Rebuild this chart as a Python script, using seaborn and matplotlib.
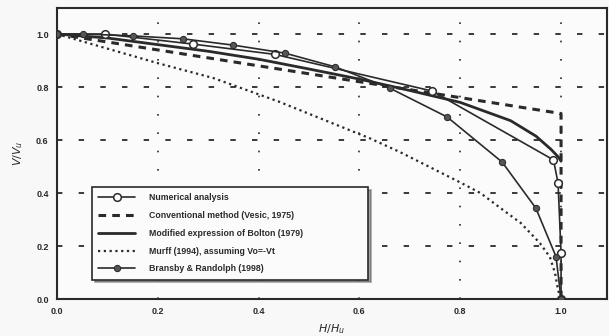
import numpy as np
import pandas as pd
import matplotlib
matplotlib.use("Agg")
import matplotlib.pyplot as plt
import seaborn as sns

sns.set_style("white")
plt.rcParams['font.family'] = ['Liberation Sans', 'DejaVu Sans']

# ---- data ----
num_x = [0.0, 0.095, 0.27, 0.433, 0.744, 0.985, 0.994, 1.0, 1.0]
num_y = [1.0, 1.0, 0.962, 0.923, 0.785, 0.525, 0.438, 0.174, 0.0]

conv_x = [0.0, 1.0, 1.0]
conv_y = [1.0, 0.70, 0.0]

bolton_x = [0.0, 0.1, 0.2, 0.3, 0.4, 0.5, 0.6, 0.7, 0.8, 0.9, 0.95, 0.98, 0.995, 1.0]
bolton_y = [1.0, 0.985, 0.96, 0.935, 0.905, 0.868, 0.83, 0.787, 0.742, 0.673, 0.615, 0.565, 0.535, 0.52]

murff_x = [0.0, 0.1, 0.2, 0.31, 0.44, 0.62, 0.68, 0.80, 0.84, 0.88, 0.92, 0.958, 0.978, 0.988, 0.994, 1.0]
murff_y = [1.0, 0.945, 0.89, 0.834, 0.745, 0.607, 0.555, 0.44, 0.40, 0.343, 0.287, 0.211, 0.158, 0.098, 0.034, 0.0]

bran_x = [0.0, 0.052, 0.151, 0.25, 0.35, 0.452, 0.552, 0.66, 0.774, 0.883, 0.95, 0.99, 1.0]
bran_y = [1.0, 1.0, 0.993, 0.982, 0.958, 0.928, 0.876, 0.796, 0.687, 0.517, 0.343, 0.16, 0.0]

labels = ["Numerical analysis",
          "Conventional method (Vesic, 1975)",
          "Modified expression of Bolton (1979)",
          "Murff (1994), assuming Vo=-Vt",
          "Bransby & Randolph (1998)"]

x_ticks = [0.0, 0.2, 0.4, 0.6, 0.8, 1.0]
y_ticks = [0.0, 0.2, 0.4, 0.6, 0.8, 1.0]

fig = plt.figure(figsize=(6.09, 3.36), dpi=100)
fig.patch.set_facecolor("#f8f8f8")
ax = fig.add_axes([0.0936, 0.110, 0.9030, 0.866])
ax.set_facecolor("#fbfbfb")

ink = "#2a2a2a"

# grid
for yv in y_ticks[1:]:
    ax.axhline(yv, color=ink, lw=1.3, ls=(0, (3, 9)), zorder=1)
for xv in x_ticks[1:]:
    ax.axvline(xv, color=ink, lw=1.2, ls=(0, (1, 10)), zorder=1)

def df(x, y):
    return pd.DataFrame({"x": x, "y": y})

common = dict(x="x", y="y", sort=False, estimator=None, ax=ax)

sns.lineplot(data=df(murff_x, murff_y), **common,
             color=ink, lw=1.6, ls=(0, (1, 1.6)), label=labels[3], zorder=3)
sns.lineplot(data=df(conv_x, conv_y), **common,
             color=ink, lw=2.2, ls=(0, (2.5, 2)), label=labels[1], zorder=3)
sns.lineplot(data=df(bolton_x, bolton_y), **common,
             color=ink, lw=2.0, label=labels[2], zorder=4)
sns.lineplot(data=df(num_x, num_y), **common,
             color=ink, lw=1.2, marker="o", markersize=5.5, markerfacecolor="white",
             markeredgecolor=ink, markeredgewidth=1.1, label=labels[0], zorder=5)
sns.lineplot(data=df(bran_x, bran_y), **common,
             color=ink, lw=1.2, marker="o", markersize=4.5, markerfacecolor="#555555",
             markeredgecolor=ink, label=labels[4], zorder=6)

ax.set_xlim(0, 1.091)
ax.set_ylim(0, 1.098)
ax.set_xticks(x_ticks)
ax.set_yticks(y_ticks)
ax.set_xticklabels([f"{v:.1f}" for v in x_ticks], fontsize=6.5, fontweight="bold", color=ink)
ax.set_yticklabels([f"{v:.1f}" for v in y_ticks], fontsize=6.5, fontweight="bold", color=ink)
ax.tick_params(direction="inout", length=6, width=1.0, color=ink, pad=3)
for s in ax.spines.values():
    s.set_color(ink)
    s.set_linewidth(1.5)
    s.set_visible(True)

ax.set_xlabel(r"$H/H_u$", fontsize=8, color=ink, labelpad=4)
ax.set_ylabel(r"$V/V_u$", fontsize=8, color=ink, labelpad=8)

handles, labs = ax.get_legend_handles_labels()
order = [labs.index(l) for l in labels]
leg = ax.legend([handles[i] for i in order], [labs[i] for i in order],
                loc="lower left", bbox_to_anchor=(0.056, 0.052, 0.517, 0.398),
                mode="expand", frameon=True, fancybox=False, shadow=True,
                handlelength=4.2, handletextpad=1.6, labelspacing=1.0,
                borderpad=0.7, prop={"size": 6.3, "weight": "bold"})
leg.get_frame().set_edgecolor(ink)
leg.get_frame().set_linewidth(1.2)
leg.get_frame().set_facecolor("#fbfbfb")
leg.set_zorder(10)
for t in leg.get_texts():
    t.set_color(ink)

fig.savefig("out.png", dpi=100, facecolor=fig.get_facecolor())
